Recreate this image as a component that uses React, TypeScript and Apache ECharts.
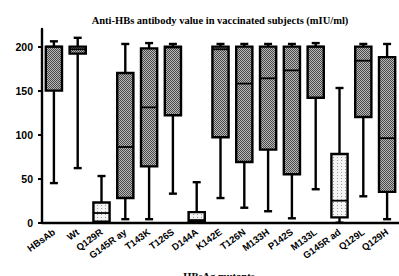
import React, { useEffect, useRef } from "react";
import * as echarts from "echarts";

const categories = [
  "HBsAb", "Wt", "Q129R", "G145R ay", "T143K", "T126S", "D144A", "K142E",
  "T126N", "M133H", "P142S", "M133L", "G145R ad", "Q129L", "Q129H",
];
const whiskerLow = [45, 62, 0, 4, 4, 33, 0, 28, 17, 13, 5, 38, 0, 30, 4];
const quartile1 = [150, 192, 1, 28, 64, 122, 1, 97, 69, 83, 55, 142, 6, 120, 35];
const medians = [200, 197, 11, 86, 131, 199, 3, 197, 158, 164, 173, 200, 25, 184, 96];
const quartile3 = [200, 200, 23, 170, 198, 200, 12, 200, 200, 200, 200, 200, 78, 200, 188];
const whiskerHigh = [206, 210, 53, 203, 204, 203, 46, 203, 203, 203, 203, 204, 153, 203, 203];
const lightFill = [0, 0, 1, 0, 0, 0, 1, 0, 0, 0, 0, 0, 1, 0, 0];
const yTicks = [0, 50, 100, 150, 200];

function makePattern(kind: "dark" | "light"): any {
  const c = document.createElement("canvas");
  if (kind === "dark") {
    c.width = 2; c.height = 2;
    const g = c.getContext("2d")!;
    g.fillStyle = "#b8b8b8"; g.fillRect(0, 0, 2, 2);
    g.fillStyle = "#4a4a4a"; g.fillRect(0, 0, 1, 1); g.fillRect(1, 1, 1, 1);
  } else {
    c.width = 4; c.height = 3;
    const g = c.getContext("2d")!;
    g.fillStyle = "#f4f4f4"; g.fillRect(0, 0, 4, 3);
    g.fillStyle = "#9a9a9a"; g.fillRect(1, 1, 1, 1);
  }
  return { image: c, repeat: "repeat" };
}

export default function App() {
  const ref = useRef<HTMLDivElement>(null);
  useEffect(() => {
    if (!ref.current) return;
    const chart = echarts.init(ref.current, undefined, { renderer: "svg" });
    const dark = makePattern("dark");
    const light = makePattern("light");
    const data = categories.map((_, i) => [
      i, whiskerLow[i], quartile1[i], medians[i], quartile3[i], whiskerHigh[i], lightFill[i],
    ]);
    const lw = 2.4;
    chart.setOption({
      animation: false,
      grid: { left: 42, right: -10.5, top: 29, bottom: 53.3 },
      graphic: [
        {
          type: "text", x: 220, y: 20.5,
          style: {
            text: "Anti-HBs antibody value in vaccinated subjects (mIU/ml)",
            fontFamily: "Liberation Serif", fontWeight: "bold", fontSize: 10.5,
            fill: "#000", align: "center", verticalAlign: "middle",
          },
        },
        {
          type: "text", x: 219, y: 270.5,
          style: {
            text: "HBsAg mutants",
            fontFamily: "Liberation Serif", fontWeight: "bold", fontSize: 10.5,
            fill: "#000", align: "center", verticalAlign: "top",
          },
        },
      ],
      xAxis: {
        type: "category",
        data: categories,
        axisLine: { lineStyle: { color: "#000", width: lw } },
        axisTick: { alignWithLabel: true, length: 4, lineStyle: { color: "#000", width: 2 } },
        axisLabel: {
          interval: 0, rotate: 36, margin: 8, color: "#000",
          fontFamily: "Liberation Sans", fontWeight: "bold", fontSize: 9.5,
        },
        splitLine: { show: false },
      },
      yAxis: {
        type: "value",
        min: 0, max: 220,
        axisLine: { show: true, lineStyle: { color: "#000", width: lw } },
        axisTick: { show: true, length: 4, customValues: yTicks, lineStyle: { color: "#000", width: 2 } },
        axisLabel: {
          customValues: yTicks, margin: 9, color: "#000",
          fontFamily: "Liberation Sans", fontWeight: "bold", fontSize: 10.5,
        },
        splitLine: { show: false },
      },
      series: [
        {
          type: "custom",
          data,
          encode: { x: 0, y: [1, 2, 3, 4, 5] },
          clip: false,
          renderItem: (params: any, api: any) => {
            const idx = api.value(0);
            const x = api.coord([idx, 0])[0];
            const band = api.size([1, 0])[0];
            const hw = band * 0.34;
            const cw = 4;
            const yMin = api.coord([idx, api.value(1)])[1];
            const yQ1 = api.coord([idx, api.value(2)])[1];
            const yMed = api.coord([idx, api.value(3)])[1];
            const yQ3 = api.coord([idx, api.value(4)])[1];
            const yMax = api.coord([idx, api.value(5)])[1];
            const isLight = api.value(6) === 1;
            const ls = { stroke: "#000", lineWidth: lw };
            return {
              type: "group",
              children: [
                { type: "line", shape: { x1: x, y1: yMax, x2: x, y2: yQ3 }, style: ls },
                { type: "line", shape: { x1: x, y1: yQ1, x2: x, y2: yMin }, style: ls },
                { type: "line", shape: { x1: x - cw, y1: yMax, x2: x + cw, y2: yMax }, style: ls },
                { type: "line", shape: { x1: x - cw, y1: yMin, x2: x + cw, y2: yMin }, style: ls },
                {
                  type: "rect",
                  shape: { x: x - hw, y: yQ3, width: hw * 2, height: Math.max(yQ1 - yQ3, 1) },
                  style: { fill: isLight ? light : dark, stroke: "#000", lineWidth: lw },
                },
                { type: "line", shape: { x1: x - hw, y1: yMed, x2: x + hw, y2: yMed }, style: { stroke: "#000", lineWidth: 1.8 } },
              ],
            };
          },
        },
      ],
    });
    return () => chart.dispose();
  }, []);
  return (
    <div
      ref={ref}
      style={{ position: "fixed", left: 0, top: 0, width: 399, height: 276, background: "#fff" }}
    />
  );
}
